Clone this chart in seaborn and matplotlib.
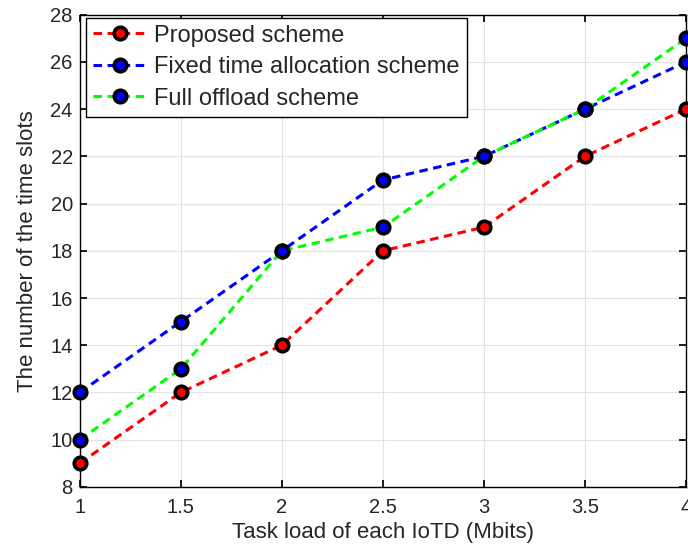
import matplotlib
matplotlib.use("Agg")
import matplotlib.pyplot as plt
import seaborn as sns
import pandas as pd

task_load = [1, 1.5, 2, 2.5, 3, 3.5, 4]
proposed = [9, 12, 14, 18, 19, 22, 24]
fixed_time = [12, 15, 18, 21, 22, 24, 26]
full_offload = [10, 13, 18, 19, 22, 24, 27]

series = [
    ("Proposed scheme", proposed, "#ff0000", "#ff0000"),
    ("Fixed time allocation scheme", fixed_time, "#0000ff", "#0000ff"),
    ("Full offload scheme", full_offload, "#00ff00", "#0000ff"),
]

sns.set_theme(style="whitegrid")
plt.rcParams["font.family"] = ["Liberation Sans", "DejaVu Sans"]

fig = plt.figure(figsize=(6.88, 5.47), dpi=100)
ax = fig.add_axes([0.116, 0.110, 0.881, 0.863])

for name, vals, lc, mfc in series:
    df = pd.DataFrame({"x": task_load, "y": vals})
    sns.lineplot(data=df, x="x", y="y", ax=ax, color=lc, linestyle=(0, (2.8, 1.8)),
                 linewidth=2.2, marker="o", markersize=9, markerfacecolor=mfc,
                 markeredgecolor="black", markeredgewidth=2.6, label=name,
                 clip_on=False, zorder=3)

ax.set_xlim(1, 4)
ax.set_ylim(8, 28)
ax.set_xticks(task_load)
ax.set_xticklabels(["1", "1.5", "2", "2.5", "3", "3.5", "4"])
ax.set_yticks(range(8, 29, 2))
ax.set_xlabel("Task load of each IoTD (Mbits)", fontsize=16, labelpad=4)
ax.set_ylabel("The number of the time slots", fontsize=16, labelpad=9)
ax.tick_params(axis="both", labelsize=14.5, direction="in", length=5, color="black",
               top=True, right=True, bottom=True, left=True)
ax.tick_params(axis="x", pad=8)
ax.tick_params(axis="y", pad=5)
ax.set_facecolor("white")
ax.grid(True, color="#e3e3e3", linewidth=0.8)
for s in ax.spines.values():
    s.set_color("black")
    s.set_linewidth(1.0)

leg = ax.legend(loc="upper left", bbox_to_anchor=(0.01, 0.994), fontsize=17,
                frameon=True, fancybox=False, edgecolor="black", framealpha=1,
                handlelength=2.3, handletextpad=0.3, borderpad=0.3,
                labelspacing=0.4, borderaxespad=0.0)
leg.get_frame().set_linewidth(1.0)

fig.savefig("out.png", dpi=100)
